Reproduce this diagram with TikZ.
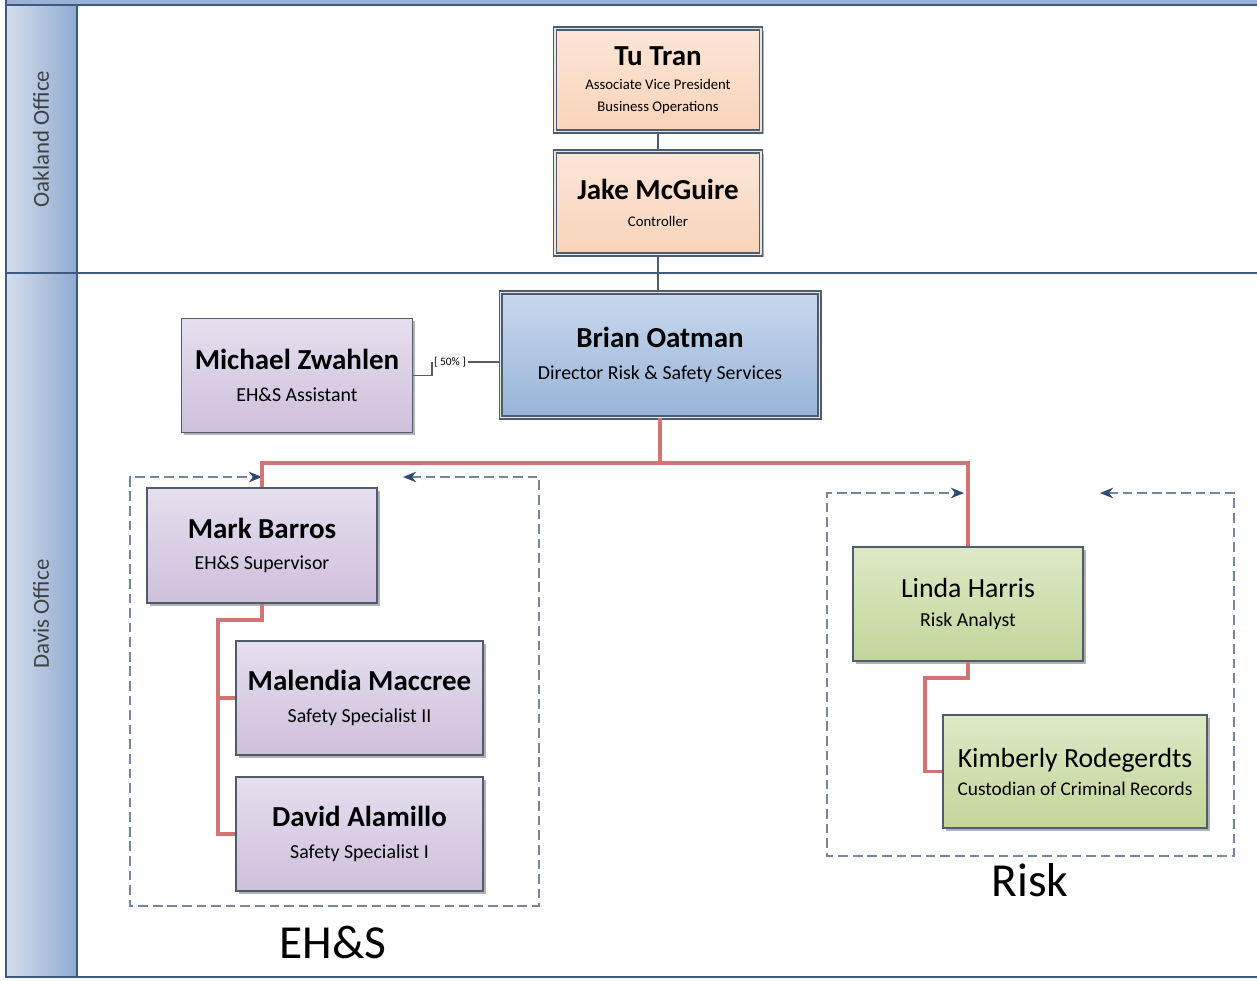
\documentclass[tikz,border=0pt]{standalone}
\usepackage{fontspec}
\setmainfont{Carlito}
\usetikzlibrary{arrows.meta,shadows}
\definecolor{framecol}{HTML}{3F5A80}
\definecolor{barcol}{HTML}{9AB2D8}
\definecolor{lanel}{HTML}{D5DEEC}
\definecolor{laner}{HTML}{8FAAD0}
\definecolor{boxline}{HTML}{4E5C6E}
\definecolor{peachT}{HTML}{FCE6D8}
\definecolor{peachB}{HTML}{F8D3B9}
\definecolor{blueT}{HTML}{C8D8EC}
\definecolor{blueB}{HTML}{98B4D8}
\definecolor{purpT}{HTML}{E6DFEE}
\definecolor{purpB}{HTML}{CDC0DC}
\definecolor{greenT}{HTML}{DDE9C6}
\definecolor{greenB}{HTML}{C2D69A}
\definecolor{redline}{HTML}{D37474}
\definecolor{dashcol}{HTML}{76869E}
\definecolor{arrowcol}{HTML}{2F4A72}
\tikzset{
  person/.style={rectangle, draw=boxline, line width=0.9pt, align=center, inner sep=2pt,
     drop shadow={shadow xshift=1.6pt, shadow yshift=-1.6pt, fill=black!55, opacity=0.55}},
  topperson/.style={person, double=white!85!boxline, double distance=0.9pt, line width=0.7pt},
  peach/.style={top color=peachT, bottom color=peachB},
  bluebox/.style={top color=blueT, bottom color=blueB},
  purp/.style={top color=purpT, bottom color=purpB},
  greenbox/.style={top color=greenT, bottom color=greenB},
  reportline/.style={draw=redline, line width=1.9pt},
  grayline/.style={draw=boxline, line width=0.8pt},
  groupline/.style={draw=dashcol, line width=1.1pt, dash pattern=on 5.5pt off 2.8pt,
     arrows={Stealth[length=7.5pt,width=6pt,color=arrowcol]-Stealth[length=7.5pt,width=6pt,color=arrowcol]}},
  lanetext/.style={rotate=90, text=black!75, font=\fontsize{13}{15}\selectfont},
}
\newcommand{\nm}[1]{{\fontsize{16.5}{19}\selectfont\bfseries #1}}
\newcommand{\rn}[1]{{\fontsize{15.8}{18}\selectfont #1}}
\newcommand{\sub}[1]{{\fontsize{11.3}{13}\selectfont #1}}
\newcommand{\tsub}[1]{{\fontsize{8.4}{10}\selectfont #1}}
\begin{document}
\begin{tikzpicture}[x=0.02cm,y=-0.02cm]
\useasboundingbox (0,0) rectangle (1257,980);
% frame
\fill[barcol] (5,0) rectangle (1257,5);
\shade[left color=lanel, right color=laner] (6,5) rectangle (77,977);
\draw[framecol, line width=1pt] (5,5) -- (1257,5);
\draw[framecol, line width=1pt] (5,273) -- (1257,273);
\draw[framecol, line width=1pt] (5,977) -- (1257,977);
\draw[framecol, line width=1pt] (6,0) -- (6,977);
\draw[framecol, line width=1pt] (77,5) -- (77,977);
\node[lanetext] (oak) at (41,139) {Oakland Office};
\node[lanetext] (dav) at (41,614) {Davis Office};

% group boxes
\draw[groupline] (403,477) -- (539,477) -- (539,906) -- (130,906) -- (130,477) -- (262,477);
\draw[groupline] (1100,493) -- (1234,493) -- (1234,856) -- (827,856) -- (827,493) -- (964,493);
\node[font=\fontsize{27}{30}\selectfont] (ehs) at (333,942) {EH\&S};
\node[font=\fontsize{27}{30}\selectfont] (risk) at (1030,880) {Risk};

% people
\node[topperson, peach, minimum width=4.12cm, minimum height=2.06cm] (tt) at (658,80)
  {\nm{Tu Tran}\\[2pt]\tsub{Associate Vice President}\\\tsub{Business Operations}};
\node[topperson, peach, minimum width=4.12cm, minimum height=2.06cm] (jm) at (658,203)
  {\nm{Jake McGuire}\\[3pt]\tsub{Controller}};
\node[topperson, bluebox, minimum width=6.38cm, minimum height=2.5cm] (bo) at (660,355)
  {\nm{Brian Oatman}\\[6pt]\sub{Director Risk \& Safety Services}};
\node[person, purp, minimum width=4.62cm, minimum height=2.28cm] (mz) at (297,375.5)
  {\nm{Michael Zwahlen}\\[6pt]\sub{EH\&S Assistant}};
\node[person, purp, minimum width=4.6cm, minimum height=2.3cm] (mb) at (262,545.5)
  {\nm{Mark Barros}\\[6pt]\sub{EH\&S Supervisor}};
\node[person, purp, minimum width=4.94cm, minimum height=2.28cm] (mm) at (359.5,698)
  {\nm{Malendia Maccree}\\[6pt]\sub{Safety Specialist II}};
\node[person, purp, minimum width=4.94cm, minimum height=2.28cm] (da) at (359.5,834)
  {\nm{David Alamillo}\\[6pt]\sub{Safety Specialist I}};
\node[person, greenbox, minimum width=4.6cm, minimum height=2.28cm] (lh) at (968,604)
  {\rn{Linda Harris}\\[4pt]\sub{Risk Analyst}};
\node[person, greenbox, minimum width=5.28cm, minimum height=2.26cm] (kr) at (1075,771.5)
  {\rn{Kimberly Rodegerdts}\\[4pt]{\fontsize{11}{13}\selectfont Custodian of Criminal Records}};

% gray connectors
\draw[grayline] (tt.south) -- (jm.north);
\draw[grayline] (jm.south) -- (jm.south |- bo.north);
\node[inner sep=1pt, font=\fontsize{6.5}{8}\selectfont] (pct) at (450,362) {[ 50\% ]};
\draw[grayline] (mz.east) -| (pct.west);
\draw[grayline] (pct.east) -- (bo.west |- pct.east);

% red reporting lines
\coordinate (split) at (660,463);
\coordinate (ehsbus) at (218,620);
\coordinate (riskbus) at (925,678);
\draw[reportline] (bo.south) -- (split);
\draw[reportline] (split) -| (mb.north);
\draw[reportline] (split) -| (lh.north);
\draw[reportline] (mb.south) |- (ehsbus) |- (mm.west);
\draw[reportline] (ehsbus) |- (da.west);
\draw[reportline] (lh.south) |- (riskbus) |- (kr.west);
\end{tikzpicture}
\end{document}
